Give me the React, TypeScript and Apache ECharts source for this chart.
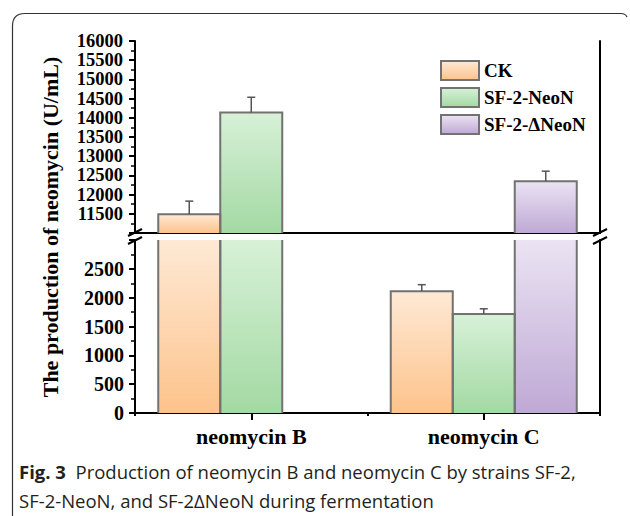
import React, { useEffect, useRef } from "react";
import * as echarts from "echarts";

const categories = ["neomycin B", "neomycin C"];
const seriesNames = ["CK", "SF-2-NeoN", "SF-2-ΔNeoN"];
const ckValues: (number | null)[] = [11490, 2110];
const neoNValues: (number | null)[] = [14135, 1717];
const dNeoNValues: (number | null)[] = [null, 12350];
const ckErr: (number | null)[] = [340, 115];
const neoNErr: (number | null)[] = [400, 90];
const dNeoNErr: (number | null)[] = [null, 260];
const upperMin = 11000;
const upperMax = 16000;
const lowerMin = 0;
const lowerMax = 3000;
const tickStep = 500;

const SERIF = "Liberation Serif";
const BORDER = "#727272";

const grad = (top: string, bottom: string) =>
  new echarts.graphic.LinearGradient(0, 0, 0, 1, [
    { offset: 0, color: top },
    { offset: 1, color: bottom },
  ]);

const colors = [
  ["#fee9d5", "#fdc38b"],
  ["#d7f1d7", "#a3d9a3"],
  ["#ebe3f3", "#bfa9d5"],
];

export default function App() {
  const ref = useRef<HTMLDivElement>(null);
  useEffect(() => {
    if (!ref.current) return;
    echarts.graphic.registerShape(
      "frameLine",
      echarts.graphic.extendPath(
        "M12.5 530 L12.5 26 Q12.5 13.5 25 13.5 L621 13.5 Q625.5 13.5 627 17",
        {}
      ) as any
    );
    const chart = echarts.init(ref.current, null, { renderer: "svg" });
    const valueSets = [ckValues, neoNValues, dNeoNValues];
    const errSets = [ckErr, neoNErr, dNeoNErr];
    const ranges = [
      [upperMin, upperMax],
      [lowerMin, lowerMax],
    ];

    const barSeries = (grid: number) =>
      valueSets.map((vals, i) => ({
        type: "bar",
        name: seriesNames[i],
        xAxisIndex: grid === 0 ? 0 : 1,
        yAxisIndex: grid === 0 ? 0 : 2,
        data: vals.map((v) =>
          v == null ? null : grid === 0 && v < upperMin ? null : v
        ),
        barGap: "0%",
        barCategoryGap: "20%",
        clip: true,
        itemStyle: {
          color: grad(colors[i][0], colors[i][1]),
          borderWidth: 0,
        },
        emphasis: { disabled: true },
      }));

    const geom = (api: any, cat: number, v: number, s: number) => {
      const p = api.coord([cat, v]);
      const bandW = api.size([1, 0])[0];
      const barW = (bandW * 0.8) / 3;
      return { x: p[0] + (s - 1) * barW, y: p[1], barW };
    };

    const borderData = (grid: number) => {
      const out: number[][] = [];
      valueSets.forEach((vals, s) => {
        vals.forEach((v, c) => {
          if (v == null) return;
          if (v > ranges[grid][0]) out.push([c, v, s]);
        });
      });
      return out;
    };

    const borderSeries = (grid: number) => ({
      type: "custom",
      xAxisIndex: grid === 0 ? 0 : 1,
      yAxisIndex: grid === 0 ? 0 : 2,
      z: 4,
      clip: false,
      silent: true,
      encode: { x: 0, y: 1 },
      data: borderData(grid),
      renderItem: (params: any, api: any) => {
        const cat = api.value(0);
        const v = api.value(1);
        const s = api.value(2);
        const [lo, hi] = ranges[grid];
        const t = geom(api, cat, Math.min(v, hi), s);
        const b = geom(api, cat, lo, s);
        const xl = t.x - t.barW / 2;
        const xr = t.x + t.barW / 2;
        const st = { stroke: BORDER, lineWidth: 2, fill: "none" };
        if (v <= hi) {
          return {
            type: "polyline",
            shape: { points: [[xl, b.y], [xl, t.y], [xr, t.y], [xr, b.y]] },
            style: st,
          };
        }
        return {
          type: "group",
          children: [
            { type: "line", shape: { x1: xl, y1: b.y, x2: xl, y2: t.y }, style: st },
            { type: "line", shape: { x1: xr, y1: b.y, x2: xr, y2: t.y }, style: st },
          ],
        };
      },
    });

    const errData = (grid: number) => {
      const out: number[][] = [];
      valueSets.forEach((vals, s) => {
        vals.forEach((v, c) => {
          const e = errSets[s][c];
          if (v == null || e == null) return;
          if (v >= ranges[grid][0] && v <= ranges[grid][1]) out.push([c, v, e, s]);
        });
      });
      return out;
    };

    const errSeries = (grid: number) => ({
      type: "custom",
      xAxisIndex: grid === 0 ? 0 : 1,
      yAxisIndex: grid === 0 ? 0 : 2,
      z: 5,
      silent: true,
      encode: { x: 0, y: 1 },
      data: errData(grid),
      renderItem: (params: any, api: any) => {
        const cat = api.value(0);
        const v = api.value(1);
        const e = api.value(2);
        const s = api.value(3);
        const base = geom(api, cat, v, s);
        const top = geom(api, cat, v + e, s);
        const x = base.x;
        return {
          type: "group",
          children: [
            { type: "line", shape: { x1: x, y1: base.y, x2: x, y2: top.y }, style: { stroke: "#555", lineWidth: 1.5 } },
            { type: "line", shape: { x1: x - 4, y1: top.y, x2: x + 4, y2: top.y }, style: { stroke: "#555", lineWidth: 1.5 } },
          ],
        };
      },
    });

    const axisLine = { show: true, lineStyle: { color: "#000", width: 2 } };
    const breakMark = (X: number) => [
      { type: "line", shape: { x1: X - 7, y1: 236, x2: X + 7, y2: 229 }, style: { stroke: "#000", lineWidth: 2 } },
      { type: "line", shape: { x1: X - 7, y1: 244, x2: X + 7, y2: 237 }, style: { stroke: "#000", lineWidth: 2 } },
    ];
    const plain = (v: number) => String(v);

    chart.setOption({
      animation: false,
      backgroundColor: "#fff",
      grid: [
        { left: 135, right: 30, top: 41, height: 192 },
        { left: 135, right: 30, top: 240, height: 173 },
      ],
      legend: {
        orient: "vertical",
        left: 435,
        top: 55,
        itemWidth: 38,
        itemHeight: 19,
        itemGap: 6,
        icon: "rect",
        data: seriesNames,
        itemStyle: { borderColor: BORDER, borderWidth: 2 },
        textStyle: { fontFamily: SERIF, fontWeight: "bold", fontSize: 19, color: "#000" },
      },
      xAxis: [
        {
          type: "category",
          gridIndex: 0,
          position: "top",
          data: categories,
          axisLine,
          axisTick: { show: false },
          axisLabel: { show: false },
        },
        {
          type: "category",
          gridIndex: 1,
          position: "bottom",
          data: categories,
          axisLine,
          axisTick: { show: true, alignWithLabel: true, length: 7, lineStyle: { color: "#000", width: 2 } },
          axisLabel: { margin: 12, fontFamily: SERIF, fontWeight: "bold", fontSize: 22, color: "#000" },
        },
        {
          type: "category",
          gridIndex: 1,
          position: "bottom",
          data: categories,
          axisLine: { show: false },
          axisTick: { show: true, length: 3, lineStyle: { color: "#000", width: 2 } },
          axisLabel: { show: false },
        },
      ],
      yAxis: [
        {
          type: "value",
          gridIndex: 0,
          position: "left",
          min: upperMin,
          max: upperMax,
          interval: tickStep,
          axisLine,
          splitLine: { show: false },
          axisTick: { show: true, length: 6, lineStyle: { color: "#000", width: 2 } },
          minorTick: { show: true, splitNumber: 2, length: 4, lineStyle: { color: "#000", width: 1.5 } },
          axisLabel: { showMinLabel: false, formatter: plain, margin: 12, fontFamily: SERIF, fontWeight: "bold", fontSize: 18.5, color: "#000" },
        },
        {
          type: "value",
          gridIndex: 0,
          position: "right",
          min: 0,
          max: 1,
          axisLine,
          splitLine: { show: false },
          axisTick: { show: false },
          axisLabel: { show: false },
        },
        {
          type: "value",
          gridIndex: 1,
          position: "left",
          min: lowerMin,
          max: lowerMax,
          interval: tickStep,
          axisLine,
          splitLine: { show: false },
          axisTick: { show: true, length: 6, lineStyle: { color: "#000", width: 2 } },
          minorTick: { show: true, splitNumber: 2, length: 4, lineStyle: { color: "#000", width: 1.5 } },
          axisLabel: { showMaxLabel: false, formatter: plain, margin: 11, fontFamily: SERIF, fontWeight: "bold", fontSize: 20, color: "#000" },
        },
        {
          type: "value",
          gridIndex: 1,
          position: "right",
          min: 0,
          max: 1,
          axisLine,
          splitLine: { show: false },
          axisTick: { show: false },
          axisLabel: { show: false },
        },
      ],
      series: [
        ...barSeries(0),
        ...barSeries(1),
        borderSeries(0),
        borderSeries(1),
        errSeries(0),
        errSeries(1),
      ],
      graphic: [
        { type: "frameLine", shape: {}, style: { fill: "none", stroke: "#333", lineWidth: 1.2 }, silent: true },
        ...breakMark(135),
        ...breakMark(600),
        {
          type: "text",
          x: 50,
          y: 227,
          rotation: Math.PI / 2,
          style: {
            text: "The production of neomycin (U/mL)",
            fontFamily: SERIF,
            fontWeight: "bold",
            fontSize: 22,
            fill: "#000",
            align: "center",
            verticalAlign: "middle",
          },
        },
        {
          type: "text",
          x: 19,
          y: 457,
          style: {
            text: "{b|Fig. 3}  Production of neomycin B and neomycin C by strains SF-2,\nSF-2-NeoN, and SF-2ΔNeoN during fermentation",
            fontFamily: "Open Sans",
            fontSize: 18.5,
            lineHeight: 29,
            fill: "#231f20",
            verticalAlign: "top",
            rich: {
              b: { fontFamily: "Open Sans", fontSize: 18.5, fontWeight: "bold", lineHeight: 29, fill: "#231f20" },
            },
          },
        },
      ],
    });
    return () => chart.dispose();
  }, []);
  return (
    <div
      ref={ref}
      style={{ position: "absolute", left: 0, top: 0, width: 630, height: 516, background: "#fff" }}
    />
  );
}
